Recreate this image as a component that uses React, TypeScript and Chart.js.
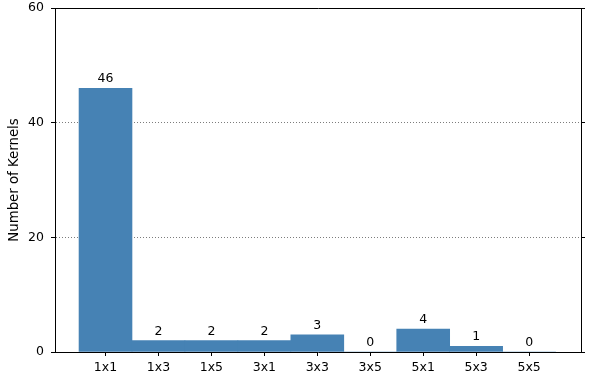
import React, { useEffect, useRef } from "react";
import { Chart, registerables } from "chart.js";

Chart.register(...registerables);

const categories = ["1x1", "1x3", "1x5", "3x1", "3x3", "3x5", "5x1", "5x3", "5x5"];
const kernelCounts = [46, 2, 2, 2, 3, 0, 4, 1, 0];
const yTicks = [0, 20, 40, 60];

const FONT = "DejaVu Sans";
const BAR_COLOR = "#4682B4";

const valueLabelPlugin = {
  id: "valueLabels",
  afterDatasetsDraw(chart: any) {
    const ctx = chart.ctx;
    const meta = chart.getDatasetMeta(0);
    ctx.save();
    ctx.font = `12.5px "${FONT}"`;
    ctx.fillStyle = "#000";
    ctx.textAlign = "center";
    ctx.textBaseline = "alphabetic";
    meta.data.forEach((bar: any, i: number) => {
      ctx.fillText(String(kernelCounts[i]), bar.x, bar.y - 6);
    });
    ctx.restore();
  },
};

const framePlugin = {
  id: "frameTop",
  afterDraw(chart: any) {
    const { ctx, chartArea } = chart;
    ctx.save();
    ctx.strokeStyle = "#000";
    ctx.lineWidth = 1;
    ctx.beginPath();
    const y = Math.floor(chartArea.top) + 0.5;
    ctx.moveTo(chartArea.left, y);
    ctx.lineTo(chartArea.right + 0.5, y);
    ctx.stroke();
    ctx.restore();
  },
};

const zeroPad = (scale: any) => {
  scale.paddingTop = 0;
  scale.paddingBottom = 0;
  scale.paddingLeft = 0;
  scale.paddingRight = 0;
};

export default function App() {
  const ref = useRef<HTMLCanvasElement>(null);

  useEffect(() => {
    if (!ref.current) return;
    const chart = new Chart(ref.current, {
      type: "bar",
      data: {
        datasets: [
          {
            data: kernelCounts.map((v, i) => ({ x: i, y: v })),
            backgroundColor: BAR_COLOR,
            borderWidth: 0,
            barPercentage: 1,
            categoryPercentage: 1,
          },
        ],
      },
      options: {
        animation: false,
        responsive: false,
        devicePixelRatio: 1,
        layout: { padding: { top: 8, left: 0, right: 0, bottom: 0 } },
        plugins: {
          legend: { display: false },
          tooltip: { enabled: false },
        },
        scales: {
          x: {
            type: "linear",
            position: "bottom",
            offset: false,
            min: -0.954,
            max: 8.98,
            afterBuildTicks: (scale: any) => {
              scale.ticks = categories.map((_, i) => ({ value: i }));
            },
            afterFit: (scale: any) => {
              scale.height = 33;
              zeroPad(scale);
            },
            ticks: {
              autoSkip: false,
              maxRotation: 0,
              minRotation: 0,
              padding: 4,
              color: "#000",
              font: { family: FONT, size: 12.5 },
              callback: (value: any) => categories[Math.round(Number(value))] ?? "",
            },
            grid: {
              offset: false,
              drawOnChartArea: false,
              drawTicks: true,
              tickLength: 4,
              tickColor: "#000",
              tickWidth: 1,
            },
            border: { display: true, color: "#000", width: 1 },
          },
          y: {
            type: "linear",
            position: "left",
            min: 0,
            max: 60,
            z: 1,
            afterBuildTicks: (scale: any) => {
              scale.ticks = yTicks.map((v) => ({ value: v }));
            },
            afterFit: (scale: any) => {
              scale.width = 55;
              zeroPad(scale);
            },
            ticks: {
              padding: 7,
              color: "#000",
              font: { family: FONT, size: 12.5 },
            },
            grid: {
              drawOnChartArea: true,
              drawTicks: true,
              tickLength: 4,
              tickColor: "#000",
              tickWidth: 1,
              lineWidth: 1,
              color: (c: any) =>
                c.tick && (c.tick.value === 20 || c.tick.value === 40)
                  ? "rgba(110,110,110,0.9)"
                  : "rgba(0,0,0,0)",
            },
            border: { display: true, color: "#000", width: 1, dash: [1, 2] },
            title: {
              display: true,
              text: "Number of Kernels",
              color: "#000",
              font: { family: FONT, size: 13.3 },
              padding: { top: 7, bottom: 0 },
            },
          },
          yR: {
            type: "linear",
            position: "right",
            min: 0,
            max: 60,
            afterBuildTicks: (scale: any) => {
              scale.ticks = yTicks.map((v) => ({ value: v }));
            },
            afterFit: (scale: any) => {
              scale.width = 11;
              zeroPad(scale);
            },
            ticks: {
              callback: () => "",
              padding: 0,
            },
            grid: {
              drawOnChartArea: false,
              drawTicks: true,
              tickLength: 4,
              tickColor: "#000",
              tickWidth: 1,
            },
            border: { display: true, color: "#000", width: 1 },
          },
        },
      } as any,
      plugins: [valueLabelPlugin, framePlugin],
    });
    return () => chart.destroy();
  }, []);

  return (
    <div style={{ position: "fixed", left: 0, top: 0, width: 592, height: 385, background: "#fff" }}>
      <canvas ref={ref} width={592} height={385} style={{ display: "block" }} />
    </div>
  );
}
